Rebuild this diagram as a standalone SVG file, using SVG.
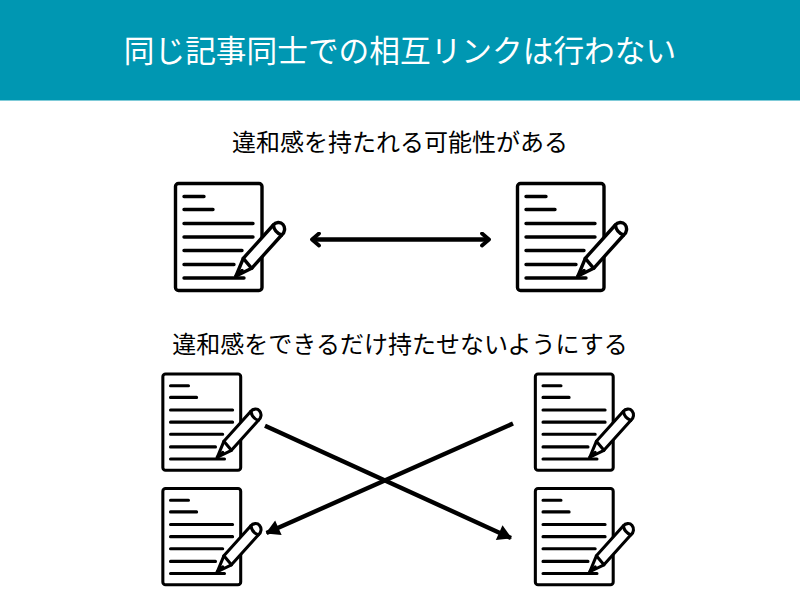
<svg xmlns="http://www.w3.org/2000/svg" width="800" height="600" viewBox="0 0 800 600">
<style>
text{font-family:"Noto Sans CJK JP","Noto Sans",sans-serif;text-anchor:middle}
.title{font-size:30.7px;fill:#fff}
.sub{font-size:24px;fill:#000}
.ic{fill:none;stroke:#000;stroke-width:3.4;stroke-linecap:round;stroke-linejoin:round}
.ln{stroke:#000;stroke-width:4.4;fill:none;stroke-linecap:butt}
</style>
<defs>
<g id="doc" class="ic">
<path d="M3.5 0H84a3 3 0 0 1 3 3V104a3 3 0 0 1-3 3H3.500a3 3 0 0 1-3-3V3a3 3 0 0 1 3-3z" transform="translate(1,0)"/>
<path d="M10 13H30M10 26H39M10 40H79M10 53.500H79M10 67H68M10 81H60M10 94.500H70"/>
<path d="M62 92.500L69.300 74.800L99.300 41.500C101.500 38.500 106.500 38 109 41C111.500 44 111 49 107.700 51.500L77.700 84.800Z" fill="#fff"/>
<path d="M69.300 74.800L77.700 84.800M99.300 41.500C100 46 103 50 107.700 51.500M62 92.500L68 87"/>
</g>
<marker id="ah" viewBox="0 0 15 16" refX="14" refY="8" markerWidth="15" markerHeight="16" markerUnits="userSpaceOnUse" orient="auto-start-reverse"><path d="M1 0L15 8L1 16Z" fill="#000"/></marker>
<marker id="ch" viewBox="0 0 12 16" refX="10" refY="8" markerWidth="12" markerHeight="16" markerUnits="userSpaceOnUse" orient="auto-start-reverse"><path d="M3 2L10 8L3 14" fill="none" stroke="#000" stroke-width="3.800" stroke-linecap="round" stroke-linejoin="round"/></marker>
</defs>
<rect width="800" height="600" fill="#fff"/>
<rect id="header" width="800" height="100.500" fill="#0097b2"/>
<text class="title" x="400" y="62">同じ記事同士での相互リンクは行わない</text>
<text class="sub" x="400" y="151">違和感を持たれる可能性がある</text>
<text class="sub" x="400" y="353">違和感をできるだけ持たせないようにする</text>
<g id="doc-a"><use href="#doc" transform="translate(174,183.500)"/></g>
<g id="doc-b"><use href="#doc" transform="translate(516,183.500)"/></g>
<g id="doc-c"><use href="#doc" transform="translate(161.500,374) scale(.9)"/></g>
<g id="doc-d"><use href="#doc" transform="translate(534,374) scale(.9)"/></g>
<g id="doc-e"><use href="#doc" transform="translate(161.500,488.500) scale(.9)"/></g>
<g id="doc-f"><use href="#doc" transform="translate(534,488.500) scale(.9)"/></g>
<g id="connectors">
<line class="ln" x1="312" y1="239.500" x2="489" y2="239.500" marker-start="url(#ch)" marker-end="url(#ch)"/>
<line class="ln" x1="265" y1="425.700" x2="511" y2="538" marker-end="url(#ah)"/>
<line class="ln" x1="513" y1="423.500" x2="266.500" y2="533" marker-end="url(#ah)"/>
</g>
</svg>
